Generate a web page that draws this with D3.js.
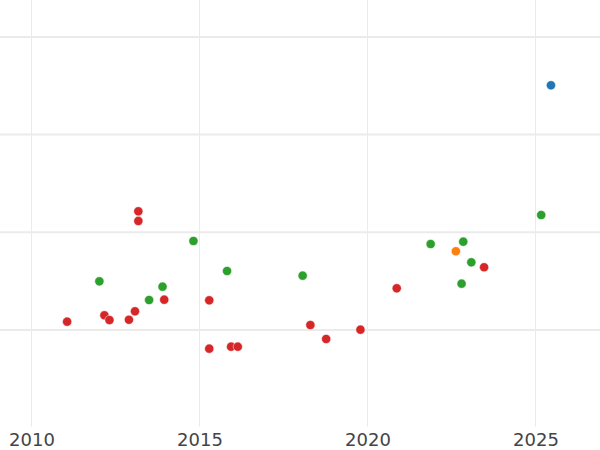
<!DOCTYPE html>
<html>
<head>
<meta charset="utf-8">
<script src="https://cdn.jsdelivr.net/npm/d3@7"></script>
<style>
  html, body { margin: 0; padding: 0; background: #fff; }
  svg { display: block; }
</style>
</head>
<body>
<svg id="chart" width="600" height="450"></svg>
<script>
// Data
const years = [
  2011.06, 2012.02, 2012.17, 2012.32, 2012.90, 2013.08, 2013.50, 2013.90, 2013.95,
  2014.82, 2015.29, 2015.29, 2015.82, 2015.94, 2016.14, 2013.18, 2013.18,
  2025.46, 2025.17, 2018.07, 2018.30, 2018.77, 2019.79, 2020.87, 2021.88,
  2022.85, 2022.63, 2023.09, 2023.47, 2022.80
];
const values = [
  0.085, 0.498, 0.150, 0.102, 0.105, 0.191, 0.307, 0.443, 0.310,
  0.911, 0.304, -0.191, 0.604, -0.171, -0.171, 1.215, 1.116,
  2.505, 1.177, 0.556, 0.051, -0.092, 0.003, 0.427, 0.880,
  0.904, 0.806, 0.693, 0.642, 0.474
];
const groups = [
  "red", "green", "red", "red", "red", "red", "green", "green", "red",
  "green", "red", "red", "green", "red", "red", "red", "red",
  "blue", "green", "green", "red", "red", "red", "red", "green",
  "green", "orange", "green", "red", "green"
];
const groupNames = ["blue", "orange", "green", "red"];
const groupColors = ["#1f77b4", "#ff7f0e", "#2ca02c", "#d62728"];
const xTicks = [2010, 2015, 2020, 2025];
const yTicks = [0, 1, 2, 3];

const svg = d3.select("#chart");
const W = 600, plotBottom = 426.7;

const x = d3.scaleLinear().domain([2009.0625, 2026.9196]).range([0, W]);
const y = d3.scaleLinear().domain([-0.99, 3.378]).range([plotBottom, 0]);
const color = d3.scaleOrdinal().domain(groupNames).range(groupColors);

// gridlines
svg.append("g")
  .selectAll("line.v")
  .data(xTicks)
  .join("line")
  .attr("x1", d => x(d)).attr("x2", d => x(d))
  .attr("y1", 0).attr("y2", plotBottom)
  .attr("stroke", "#ebebeb").attr("stroke-width", 1);

svg.append("g")
  .selectAll("line.h")
  .data(yTicks)
  .join("line")
  .attr("x1", 0).attr("x2", W)
  .attr("y1", d => y(d)).attr("y2", d => y(d))
  .attr("stroke", "#ebebeb").attr("stroke-width", 2);

// x axis labels
const xAxis = d3.axisBottom(x).tickValues(xTicks).tickFormat(d3.format("d")).tickSize(0).tickPadding(7);
const gx = svg.append("g").attr("transform", `translate(0,${plotBottom})`).call(xAxis);
gx.select(".domain").remove();
gx.selectAll("text")
  .attr("fill", "#444")
  .style("font-family", "'DejaVu Sans', sans-serif")
  .style("font-size", "18px");

// points
const data = years.map((yr, i) => ({ yr, v: values[i], g: groups[i] }));
svg.append("g")
  .selectAll("circle")
  .data(data)
  .join("circle")
  .attr("cx", d => x(d.yr))
  .attr("cy", d => y(d.v))
  .attr("r", 4.6)
  .attr("fill", d => color(d.g))
  .attr("stroke", "#fff")
  .attr("stroke-width", 0.5);
</script>
</body>
</html>
